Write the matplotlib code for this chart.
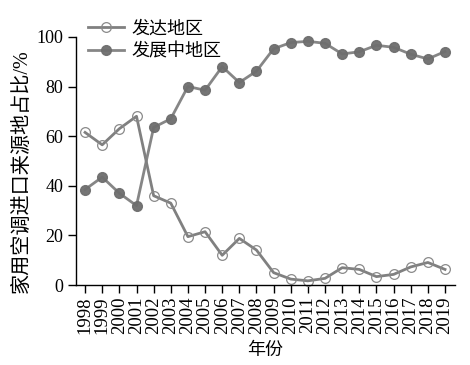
import matplotlib
matplotlib.use('Agg')
import matplotlib.pyplot as plt

plt.rcParams['font.family'] = ['Liberation Serif', 'Noto Sans CJK SC']

years = list(range(1998, 2020))
developed = [61.5, 56.5, 63, 68, 36, 33, 19.5, 21.5, 12, 18.8, 14.1, 5, 2.4, 1.7,
             2.7, 7, 6.3, 3.4, 4.3, 7.3, 9.1, 6.3]
developing = [38.5, 43.5, 37, 32, 63.5, 67, 80, 78.5, 88, 81.6, 86.2, 95.2, 97.7, 98.2,
              97.4, 93.1, 94, 96.6, 95.8, 93, 91.1, 94.1]
labels = ['发达地区', '发展中地区']
xlabel = '年份'
ylabel = '家用空调进口来源地占比/%'

fig = plt.figure(figsize=(4.7, 3.65), dpi=100)
ax = fig.add_axes([0.1617, 0.219, 0.968 - 0.1617, 0.899 - 0.219])

line_color = '#808080'
ax.plot(years, developed, color=line_color, lw=2, marker='o', ms=7,
        mfc='none', mec='#8a8a8a', mew=0.9, label=labels[0], clip_on=False)
ax.plot(years, developing, color=line_color, lw=2, marker='o', ms=7,
        mfc='#6e6e6e', mec='#6e6e6e', alpha=0.95, label=labels[1], clip_on=False)

ax.set_xlim(1997.47, 2019.58)
ax.set_ylim(0, 100)
ax.set_xticks(years)
ax.set_xticklabels([str(y) for y in years], rotation=90, fontsize=13.5)
ax.set_yticks([0, 20, 40, 60, 80, 100])
ax.tick_params(axis='y', labelsize=13, length=6, width=1, pad=3)
ax.tick_params(axis='x', length=6, width=1, pad=2)
for s in ['top', 'right']:
    ax.spines[s].set_visible(False)
for s in ['left', 'bottom']:
    ax.spines[s].set_linewidth(1)
ax.set_xlabel(xlabel, fontsize=13, labelpad=6)
ax.set_ylabel(ylabel, fontsize=14.5)
ax.yaxis.set_label_coords(-0.116, 0.458)

fig.legend(loc='upper left', bbox_to_anchor=(0.165, 0.974), frameon=False,
           fontsize=13, handlelength=2.0, handletextpad=0.4, labelspacing=0.35,
           borderaxespad=0.2)

fig.savefig('out.png', dpi=100)
